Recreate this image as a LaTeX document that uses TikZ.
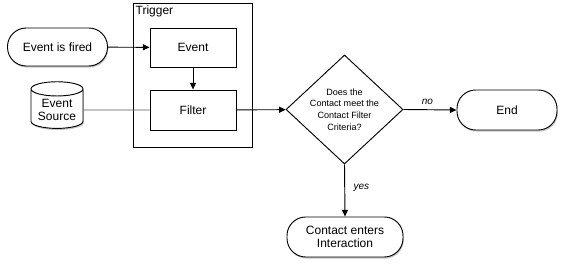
\documentclass[tikz,border=0pt]{standalone}
\usepackage{fontspec}
\setmainfont{Liberation Sans}
\usetikzlibrary{
    arrows.meta,
    shapes,
    shapes.geometric,
    shadows,
    positioning
}

\begin{document}
\begin{tikzpicture}[x=0.75pt, y=-0.75pt, >={Triangle[length=5pt,width=4.5pt]},
    line width=0.7pt,
    box-node/.style={rectangle, draw=black, fill=white, text centered, font=\fontsize{9}{10}\selectfont},
    term-node/.style={rectangle, draw=black, fill=white, rounded corners=14pt, text centered,
        align=center, font=\fontsize{9}{10}\selectfont,
        drop shadow={shadow xshift=0.6pt, shadow yshift=-1.2pt, opacity=0.45}},
    db-node/.style={cylinder, shape border rotate=90, aspect=0.35, draw=black, fill=white,
        align=center, font=\fontsize{9}{10}\selectfont, inner sep=1pt,
        drop shadow={shadow xshift=0.6pt, shadow yshift=-1.2pt, opacity=0.45}},
    decision-node/.style={diamond, draw=black, fill=white, aspect=1.07, inner sep=0pt,
        align=center, font=\fontsize{6.8}{8.7}\selectfont},
    edge-label/.style={font=\fontsize{7.5}{9}\itshape}]
    \useasboundingbox (0,0) rectangle (565,266);

    % trigger container
    \node[rectangle, draw=black, minimum width=89.25pt, minimum height=108pt] (trigger) at (192.5,75) {};
    \node[anchor=north west, inner sep=2pt, font=\fontsize{9}{10}\selectfont] (trigger-label) at (trigger.north west) {Trigger};
    \node[box-node, minimum width=64.5pt, minimum height=29.25pt] (event) at (193,47.5) {Event};
    \node[box-node, minimum width=64.5pt, minimum height=30pt] (filter) at (193,110) {Filter};

    % inputs
    \node[term-node, minimum width=75pt, minimum height=28.5pt] (fired) at (57.5,47) {Event is fired};
    \node[db-node, minimum width=39pt, minimum height=35pt] (source) at (57,110) {Event\\Source};

    % decision and outcomes
    \node[decision-node, minimum width=87.75pt, minimum height=81.75pt] (check) at (344.5,109.5)
        {Does the\\Contact meet the\\Contact Filter\\Criteria?};
    \node[term-node, minimum width=75pt, minimum height=30pt] (end) at (507,110) {End};
    \node[term-node, minimum width=87pt, minimum height=30pt] (enters) at (345,237) {Contact enters\\Interaction};

    \draw [->] (fired) -- (event);
    \draw [->] (event) -- (filter);
    \draw [black!65] (source.east) -- (filter.west);
    \draw [->] (filter) -- (check);
    \draw [->] (check.east) -- node[edge-label, above, pos=0.45] (no-label) {no} (end.west);
    \draw [->] (check.south) -- node[edge-label, right, pos=0.45, xshift=3pt] (yes-label) {yes} (enters.north);
\end{tikzpicture}
\end{document}
